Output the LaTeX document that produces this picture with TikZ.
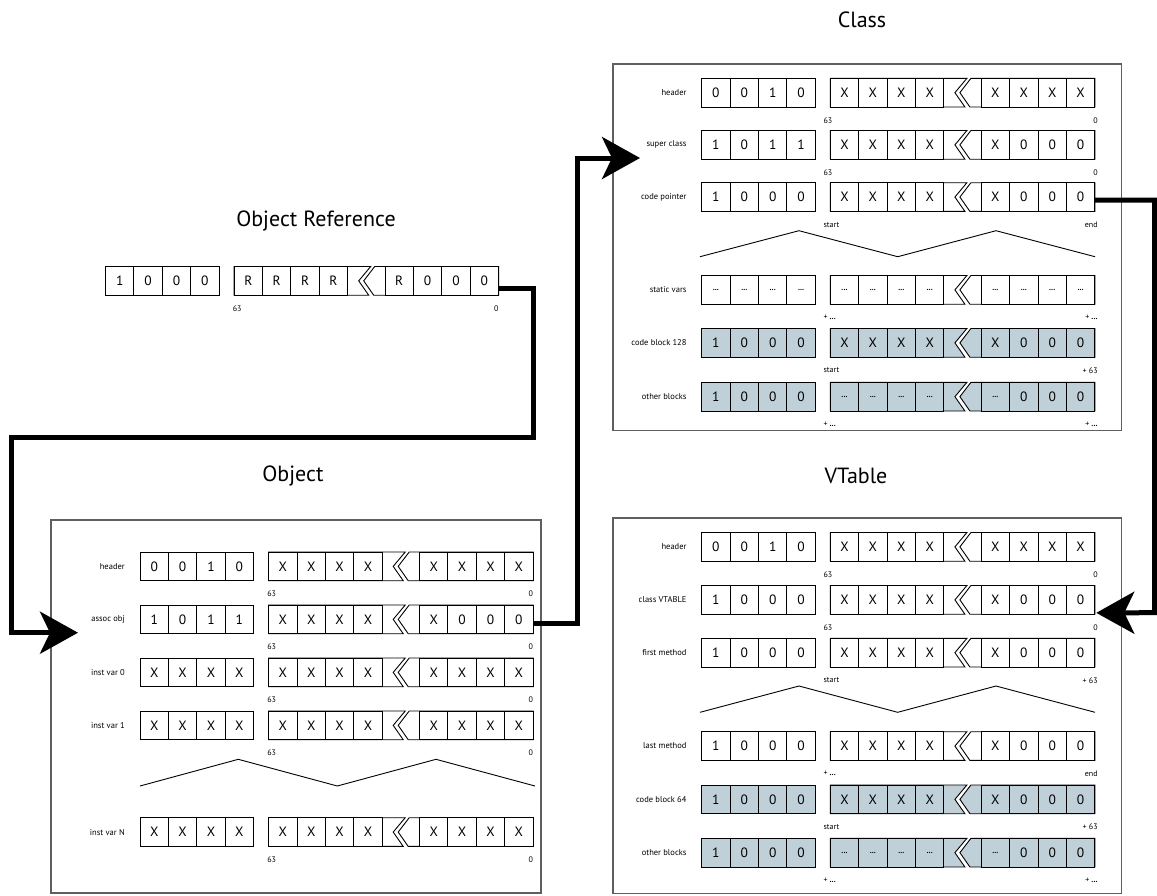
\documentclass[tikz,border=0pt]{standalone}
\usepackage{fontspec}
\setmainfont{PT Sans}
\usetikzlibrary{arrows.meta}
\definecolor{shade}{RGB}{191,208,216}
\definecolor{framegray}{RGB}{95,95,95}
\newcommand{\dd}{{\fontsize{8}{8}\selectfont\bfseries...}}
\def\lo{-1.5}\def\ro{0}
\tikzset{
  cellbox/.style={draw=black, line width=0.9pt, minimum width=28.4pt, minimum height=28.7pt, inner sep=0pt, font=\fontsize{13.5}{14}\selectfont},
  cellline/.style={draw=black, line width=0.9pt, line join=miter},
  rowlab/.style={anchor=east, inner sep=0pt, font=\fontsize{8.5}{9}\selectfont},
  sublab/.style={inner sep=0pt, font=\fontsize{8}{9}\selectfont},
  title/.style={font=\fontsize{22}{24}\selectfont},
  panel/.style={draw=framegray, line width=1.3pt},
  gap/.style={draw=black, line width=0.9pt},
  bigarrow/.style={line width=5pt, line join=miter, -{Stealth[length=38pt,width=42pt,inset=10pt]}}
}
% #1 name, #2 origin, #3 label, #4 group1, #5 group2 left, #6 group2 right, #7 fill, #8 left sublabel, #9 right sublabel
\newcommand{\memrow}[9]{%
  \begin{scope}[shift={(#2)}]
    \node[rowlab] (#1-lab) at (-15,14.35) {#3};
    \foreach \v [count=\i] in {#4} {\node[cellbox,fill=#7] (#1-a\i) at ({(\i-0.5)*28.4},14.35) {\v};}
    \draw[cellline,fill=#7] (128.6,0) -- (265.2,0) -- (253.2,14.35) -- (263.2,28.7) -- (128.6,28.7) -- cycle;
    \draw[cellline,fill=#7] (269.2,0) -- (393.1,0) -- (393.1,28.7) -- (268.2,28.7) -- (258.2,14.35) -- cycle;
    \foreach \v [count=\i] in {#5} {\node[cellbox,fill=#7] (#1-b\i) at ({128.6+(\i-0.5)*28.4},14.35) {\v};}
    \foreach \v [count=\i] in {#6} {\node[cellbox,fill=#7] (#1-c\i) at ({279.5+(\i-0.5)*28.4},14.35) {\v};}
    \coordinate (#1-E) at (393.1,14.35);
    \node[sublab,anchor=west] (#1-sl) at ({128.6+(\lo)},42) {#8};
    \node[sublab,anchor=east] (#1-sr) at ({393.1+(\ro)},42) {#9};
  \end{scope}}
\begin{document}
\begin{tikzpicture}[x=1pt,y=-1pt]
\useasboundingbox (0,0) rectangle (1157,895);
% panels
\draw[panel] (51,520) rectangle (541,893);
\draw[panel] (613,64) rectangle (1121.5,430.7);
\draw[panel] (613,518) rectangle (1121.5,893.3);
% titles
\node[title] (t-ref) at (316,221) {Object Reference};
\node[title] (t-obj) at (293,476) {Object};
\node[title] (t-cls) at (862,20) {Class};
\node[title] (t-vt) at (856,476) {VTable};
% object reference
\memrow{ref}{105.5,266.5}{}{1,0,0,0}{R,R,R,R}{R,0,0,0}{white}{63}{0}
% object
\memrow{ohdr}{140,552}{header}{0,0,1,0}{X,X,X,X}{X,X,X,X}{white}{63}{0}
\memrow{oasc}{140,605}{assoc obj}{1,0,1,1}{X,X,X,X}{X,0,0,0}{white}{63}{0}
\memrow{oiv0}{140,658}{inst var 0}{X,X,X,X}{X,X,X,X}{X,X,X,X}{white}{63}{0}
\memrow{oiv1}{140,711}{inst var 1}{X,X,X,X}{X,X,X,X}{X,X,X,X}{white}{63}{0}
\memrow{oivN}{140,817.7}{inst var N}{X,X,X,X}{X,X,X,X}{X,X,X,X}{white}{63}{0}
\draw[gap] (140,786) -- (238.3,759.3) -- (337.3,786) -- (436,759.3) -- (535,786);
% class
\def\lo{-7}\def\ro{3}
\memrow{chdr}{701.7,78.3}{header}{0,0,1,0}{X,X,X,X}{X,X,X,X}{white}{63}{0}
\memrow{csup}{701.7,130.5}{super class}{1,0,1,1}{X,X,X,X}{X,0,0,0}{white}{63}{0}
\memrow{ccp}{701.7,182.7}{code pointer}{1,0,0,0}{X,X,X,X}{X,0,0,0}{white}{start}{end}
\memrow{csv}{701.7,275.5}{static vars}{\dd,\dd,\dd,\dd}{\dd,\dd,\dd,\dd}{\dd,\dd,\dd,\dd}{white}{+ \dd}{+ \dd}
\memrow{ccb}{701.7,328.5}{code block 128}{1,0,0,0}{X,X,X,X}{X,0,0,0}{shade}{start}{+ 63}
\memrow{cob}{701.7,382.3}{other blocks}{1,0,0,0}{\dd,\dd,\dd,\dd}{\dd,0,0,0}{shade}{+ \dd}{+ \dd}
\draw[gap] (700,256.7) -- (799,230.7) -- (897.7,256.7) -- (996,230.7) -- (1095,256.7);
% vtable
\memrow{vhdr}{701.7,532.5}{header}{0,0,1,0}{X,X,X,X}{X,X,X,X}{white}{63}{0}
\memrow{vcls}{701.7,585.5}{class VTABLE}{1,0,0,0}{X,X,X,X}{X,0,0,0}{white}{63}{0}
\memrow{vfm}{701.7,638.3}{first method}{1,0,0,0}{X,X,X,X}{X,0,0,0}{white}{start}{+ 63}
\memrow{vlm}{701.7,731.7}{last method}{1,0,0,0}{X,X,X,X}{X,0,0,0}{white}{+ \dd}{end}
\memrow{vcb}{701.7,785}{code block 64}{1,0,0,0}{X,X,X,X}{X,0,0,0}{shade}{start}{+ 63}
\memrow{vob}{701.7,838.3}{other blocks}{1,0,0,0}{\dd,\dd,\dd,\dd}{\dd,0,0,0}{shade}{+ \dd}{+ \dd}
\draw[gap] (700,712.3) -- (799,686) -- (897.7,712.3) -- (996,686) -- (1095,712.3);
% connectors
\coordinate (b1) at (533.3,437);
\coordinate (b2) at (11.7,437);
\coordinate (tip1) at (78,632.7);
\coordinate (b3) at (577,158);
\coordinate (tip2) at (640,158);
\coordinate (b4) at (1154.5,612.7);
\draw[bigarrow] ([yshift=-8pt]ref-E) -| (b1) -- (b2) |- (tip1);
\draw[bigarrow] ([yshift=-4pt]oasc-E) -| (b3) -- (tip2);
\draw[bigarrow] ([yshift=-3pt]ccp-E) -| (b4) -- ([xshift=1.5pt,yshift=-13pt]vcls-E);
\end{tikzpicture}
\end{document}
